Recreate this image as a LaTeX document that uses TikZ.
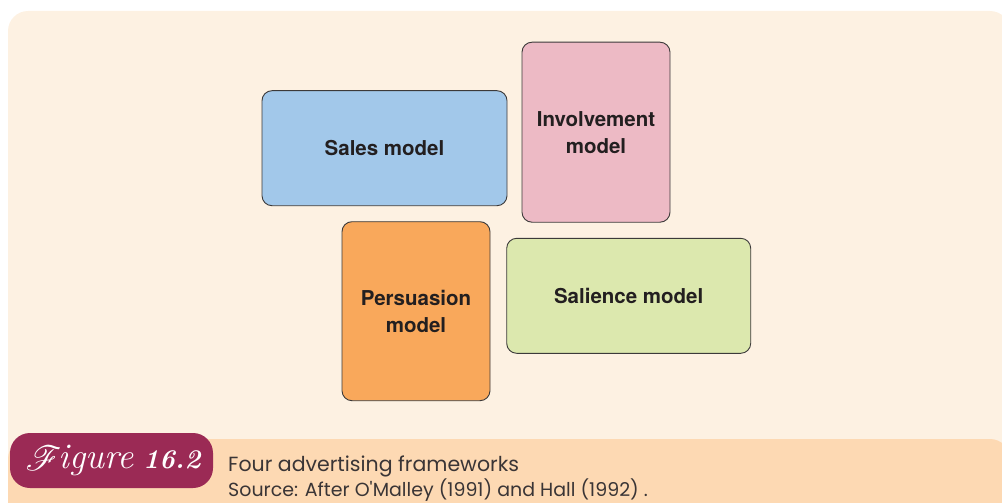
\documentclass[tikz,border=0pt]{standalone}
\usepackage{fontspec}
\usepackage{mathrsfs}
\newfontfamily\heros{TeX Gyre Heros}
\newfontfamily\capfont{Poppins}
\definecolor{panel}{HTML}{FDF1E2}
\definecolor{band}{HTML}{FDD9B3}
\definecolor{maroon}{HTML}{9B2A55}
\definecolor{salesc}{HTML}{A2C8EA}
\definecolor{involc}{HTML}{EDBAC5}
\definecolor{persc}{HTML}{F9A85B}
\definecolor{salic}{HTML}{DCE8AE}
\definecolor{edge}{HTML}{3C3A3A}
\definecolor{txt}{HTML}{231F20}
\definecolor{captxt}{HTML}{3A3536}
\tikzset{
  modelbox/.style={draw=edge, line width=0.9pt, rounded corners=10pt, inner sep=0pt,
    align=center, text=txt, font=\heros\bfseries\fontsize{20.5}{27}\selectfont},
}
\begin{document}
\begin{tikzpicture}[x=1pt,y=-1pt]
\useasboundingbox (0,0) rectangle (1002,503);
\begin{scope}
\clip (0,0) rectangle (1002,503);
\fill[panel, rounded corners=20pt] (8,11) rectangle (1010,530);
\fill[band, rounded corners=20pt] (8,439) rectangle (1010,530);
\end{scope}
\node[modelbox, fill=salesc, minimum width=245pt, minimum height=115pt] (sales) at (384.5,148.2) {Sales model};
\node[modelbox, fill=involc, minimum width=148pt, minimum height=180pt] (involve) at (596,132.2) {Involvement\\model};
\node[modelbox, fill=persc, minimum width=148pt, minimum height=179pt] (persuade) at (416,311.2) {Persuasion\\model};
\node[modelbox, fill=salic, minimum width=244pt, minimum height=115pt] (salience) at (628.7,295.8) {Salience model};
\node[fill=maroon, rounded corners=20pt, minimum width=203pt, minimum height=55pt, text=white] (badge) at (111.5,460.5)
  {\kern4pt{\fontsize{36}{36}\selectfont\raisebox{-2pt}{\scalebox{1.4}{$\mathscr{F}$}}\kern-3pt\textit{igure}}\kern9pt{\fontsize{27}{27}\selectfont\textbf{\textit{16.2}}}};
\node[anchor=base west, inner sep=0pt, text=captxt, font=\capfont\fontsize{20.5}{24}\selectfont] (caption) at (228,471) {Four advertising frameworks};
\node[anchor=base west, inner sep=0pt, text=captxt, font=\capfont\fontsize{19}{22}\selectfont] (source) at (228,496.5) {Source: After O'Malley (1991) and Hall (1992) .};
\end{tikzpicture}
\end{document}
